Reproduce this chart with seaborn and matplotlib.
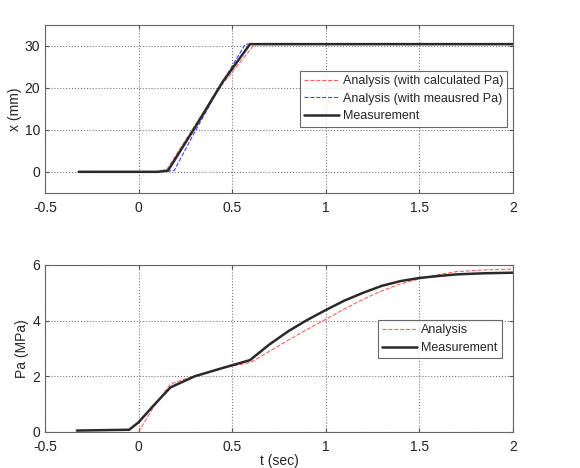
import numpy as np
import pandas as pd
import seaborn as sns
import matplotlib.pyplot as plt

sns.set_style("white")
plt.rcParams['font.family'] = ['Liberation Sans', 'DejaVu Sans']

# top panel: displacement x (mm)
t_meas_x = [-0.32, 0.10, 0.157, 0.30, 0.45, 0.595, 1.0, 1.5, 2.0]
x_meas = [0.0, 0.0, 0.3, 10.5, 21.5, 30.4, 30.4, 30.4, 30.4]
t_calc_x = [-0.32, 0.10, 0.15, 0.30, 0.45, 0.62, 1.0, 1.5, 2.0]
x_calc = [0.0, 0.0, 0.5, 11.0, 21.0, 30.4, 30.4, 30.4, 30.4]
t_mpa_x = [-0.32, 0.12, 0.19, 0.30, 0.45, 0.57, 1.0, 1.5, 2.0]
x_mpa = [0.0, 0.0, 0.3, 9.5, 21.5, 30.4, 30.4, 30.4, 30.4]

# bottom panel: pressure Pa (MPa)
t_meas_p = [-0.33, -0.05, 0.0, 0.08, 0.17, 0.30, 0.45, 0.595, 0.70, 0.80,
            0.90, 1.0, 1.1, 1.2, 1.3, 1.4, 1.5, 1.6, 1.7, 1.85, 2.0]
p_meas = [0.05, 0.08, 0.35, 0.95, 1.6, 2.0, 2.3, 2.58, 3.15, 3.62,
          4.02, 4.38, 4.72, 5.0, 5.25, 5.42, 5.53, 5.6, 5.66, 5.7, 5.72]
t_calc_p = [0.0, 0.08, 0.17, 0.30, 0.45, 0.60, 0.70, 0.80, 0.90, 1.0,
            1.1, 1.2, 1.3, 1.4, 1.5, 1.6, 1.7, 1.85, 2.0]
p_calc = [0.0, 0.9, 1.72, 2.02, 2.3, 2.5, 2.9, 3.3, 3.68, 4.05,
          4.42, 4.77, 5.07, 5.32, 5.5, 5.65, 5.76, 5.82, 5.85]

fig = plt.figure(figsize=(5.8, 4.68), dpi=100)
ax1 = fig.add_axes([0.0776, 0.588, 0.807, 0.359])
ax2 = fig.add_axes([0.0776, 0.077, 0.807, 0.357])

sns.lineplot(x=t_calc_x, y=x_calc, ax=ax1, color='#ff6060', lw=0.8, ls='--',
             label='Analysis (with calculated Pa)')
sns.lineplot(x=t_mpa_x, y=x_mpa, ax=ax1, color='#4040ff', lw=0.8, ls='--',
             label='Analysis (with meausred Pa)')
sns.lineplot(x=t_meas_x, y=x_meas, ax=ax1, color='#2a2a2a', lw=1.8,
             label='Measurement')

sns.lineplot(x=t_calc_p, y=p_calc, ax=ax2, color='#ff6060', lw=0.8, ls='--',
             label='Analysis')
sns.lineplot(x=t_meas_p, y=p_meas, ax=ax2, color='#2a2a2a', lw=1.8,
             label='Measurement')

ax1.set_xlim(-0.5, 2)
ax1.set_ylim(-5, 35)
ax1.set_yticks([0, 10, 20, 30])
ax1.set_ylabel('x (mm)', fontsize=10, labelpad=2)

ax2.set_xlim(-0.5, 2)
ax2.set_ylim(0, 6)
ax2.set_yticks([0, 2, 4, 6])
ax2.set_ylabel('Pa (MPa)', fontsize=10, labelpad=2)
ax2.set_xlabel('t (sec)', fontsize=10, labelpad=0)

for ax in (ax1, ax2):
    ax.set_xticks([-0.5, 0, 0.5, 1, 1.5, 2])
    ax.set_xticklabels(['-0.5', '0', '0.5', '1', '1.5', '2'])
    ax.grid(True, ls=':', color='#777777', lw=0.8)
    ax.tick_params(labelsize=10, direction='in', length=3, left=True, bottom=True,
                   right=True, top=True, color='#555555', labelcolor='#222222')
    ax.tick_params(axis='x', pad=6)
    for s in ax.spines.values():
        s.set_color('#666666')
        s.set_linewidth(0.8)

legend_style = dict(loc='upper right', fontsize=9, frameon=True, fancybox=False,
                    edgecolor='#444444', borderpad=0.35, labelspacing=0.45,
                    handlelength=2.8, handletextpad=0.3, borderaxespad=0)
ax1.legend(bbox_to_anchor=(0.988, 0.726), **legend_style)
ax2.legend(bbox_to_anchor=(0.976, 0.67), **legend_style)
for lg in (ax1.get_legend(), ax2.get_legend()):
    lg.get_frame().set_linewidth(0.8)

fig.savefig('out.png', dpi=100)
